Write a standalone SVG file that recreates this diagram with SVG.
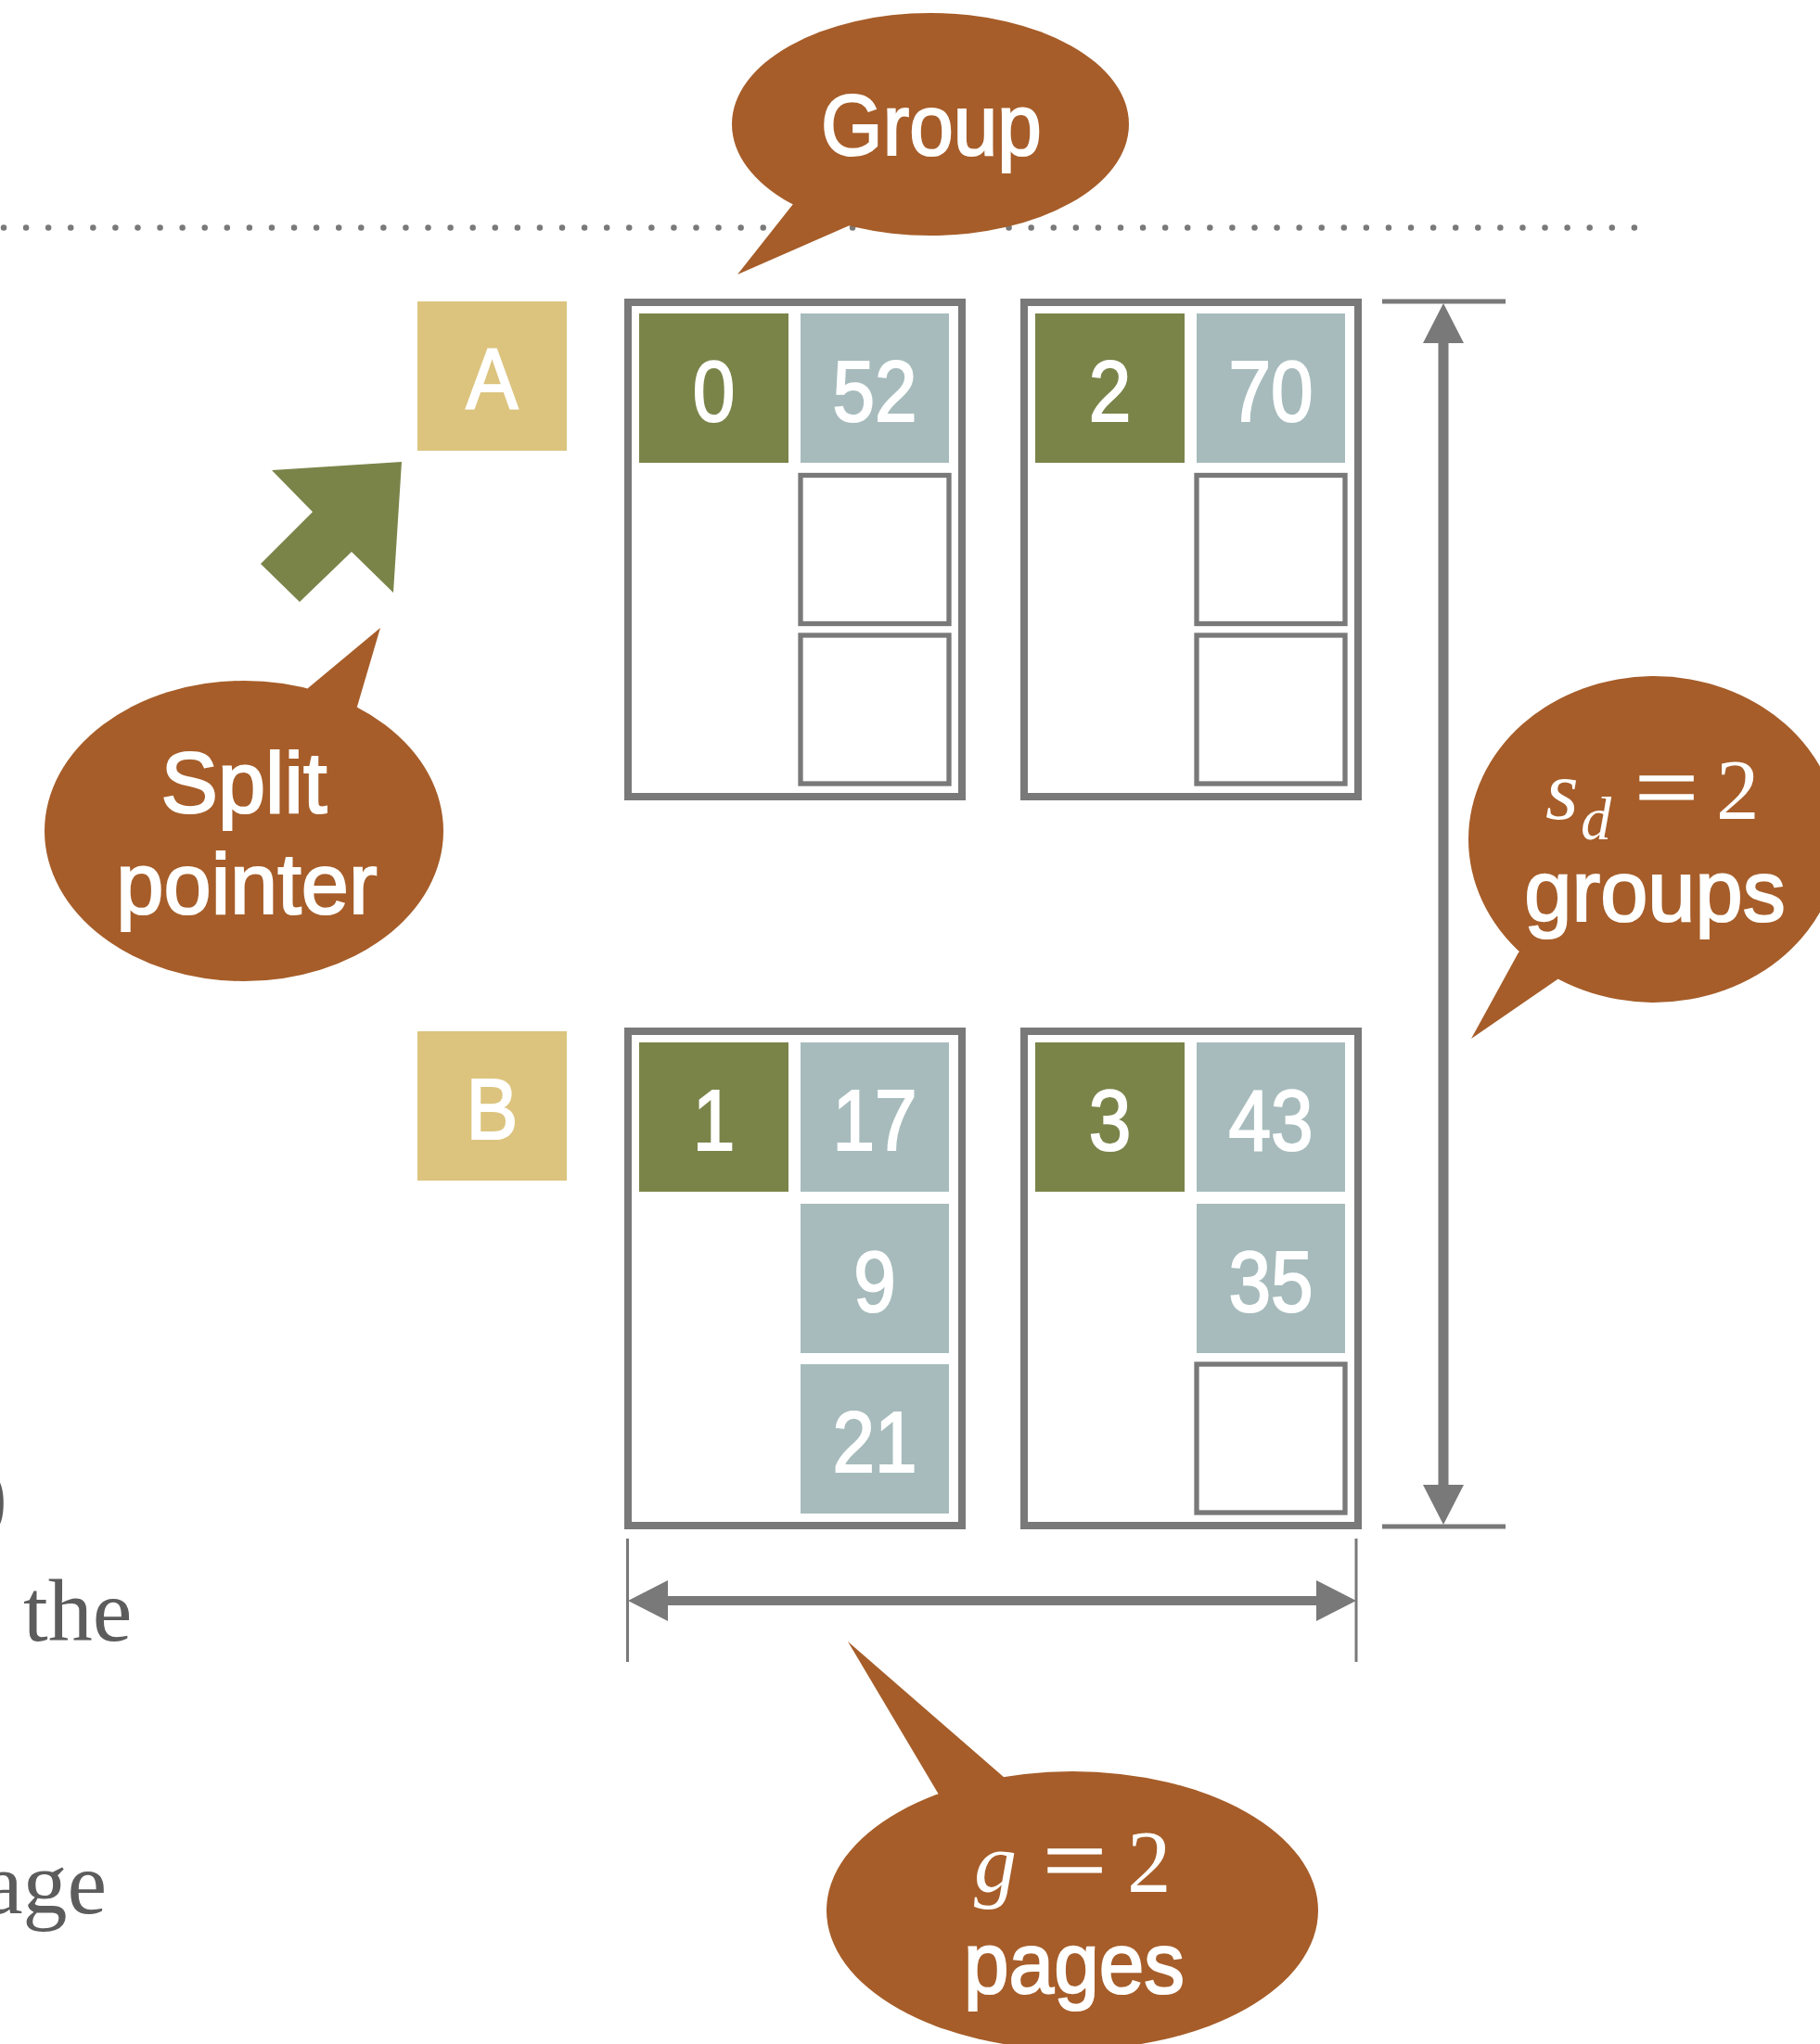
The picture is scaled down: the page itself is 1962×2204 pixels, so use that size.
<svg xmlns="http://www.w3.org/2000/svg" width="1962" height="2204" viewBox="0 0 1962 2204">
<style>
.frame{fill:#fff;stroke:#787978;stroke-width:8}
.empty{fill:#fff;stroke:#787978;stroke-width:5.3}
.key{fill:#7a8449}
.val{fill:#a7bbbc}
.tag{fill:#dcc47f}
.bubble{fill:#a65d29}
.lbl{font-family:"Liberation Sans",Arial,sans-serif;font-size:93px;fill:#fff;stroke:#fff;stroke-width:2.2;text-anchor:middle}
.btxt{font-family:"Liberation Sans",Arial,sans-serif;font-size:92px;fill:#fff;stroke:#fff;stroke-width:2.2;text-anchor:middle}
.math{font-family:"Liberation Serif","Times New Roman",serif;fill:#fff}
.eq{stroke:#fff;stroke-width:1.2}
.it{font-style:italic}
.body{font-family:"Liberation Serif","Times New Roman",serif;font-size:96px;fill:#5c5c5c}
.dim{stroke:#787978;fill:none}
</style>
<defs>
<marker id="head" viewBox="0 -22 43 44" markerWidth="43" markerHeight="44" refX="0" refY="0" markerUnits="userSpaceOnUse" orient="auto-start-reverse">
<path d="M0,-22 L43,0 L0,22 Z" fill="#787978"/>
</marker>
</defs>
<rect width="1962" height="2204" fill="#fff"/>

<g id="page-text">
<text class="body" x="-24" y="1644">)</text>
<text class="body" x="25" y="1769">the</text>
<text class="body" x="-18" y="2063">age</text>
</g>

<g id="boundary">
<line x1="4" y1="245.5" x2="1762" y2="245.5" stroke="#787978" stroke-width="6.5" stroke-linecap="round" stroke-dasharray="0 24.08"/>
</g>

<g id="connectors">
<line class="dim" x1="1490" y1="325" x2="1623" y2="325" stroke-width="5"/>
<line class="dim" x1="1490" y1="1646" x2="1623" y2="1646" stroke-width="5"/>
<line class="dim" x1="1556" y1="370" x2="1556" y2="1601" stroke-width="11" marker-start="url(#head)" marker-end="url(#head)"/>
<line class="dim" x1="676.5" y1="1659" x2="676.5" y2="1792" stroke-width="3"/>
<line class="dim" x1="1462" y1="1659" x2="1462" y2="1792" stroke-width="3"/>
<line class="dim" x1="720" y1="1726" x2="1419" y2="1726" stroke-width="10" marker-start="url(#head)" marker-end="url(#head)"/>
</g>

<g id="pointer-A">
<rect class="tag" x="450" y="325" width="161" height="161"/>
<text class="lbl" transform="translate(530.5 441) scale(0.9 1)">A</text>
</g>
<g id="pointer-B">
<rect class="tag" x="450" y="1112" width="161" height="161"/>
<text class="lbl" transform="translate(530.5 1228) scale(0.9 1)">B</text>
</g>

<g id="group-A1">
<rect class="frame" x="677" y="326" width="360" height="533"/>
<rect class="key" x="689" y="338" width="161" height="161"/>
<rect class="val" x="863" y="338" width="160" height="161"/>
<rect class="empty" x="863" y="512.5" width="160" height="160"/>
<rect class="empty" x="863" y="685" width="160" height="160"/>
<text class="lbl" transform="translate(769.5 454) scale(0.88 1)">0</text>
<text class="lbl" transform="translate(943 454) scale(0.88 1)">52</text>
</g>

<g id="group-A2">
<rect class="frame" x="1104" y="326" width="360" height="533"/>
<rect class="key" x="1116" y="338" width="161" height="161"/>
<rect class="val" x="1290" y="338" width="160" height="161"/>
<rect class="empty" x="1290" y="512.5" width="160" height="160"/>
<rect class="empty" x="1290" y="685" width="160" height="160"/>
<text class="lbl" transform="translate(1196.5 454) scale(0.88 1)">2</text>
<text class="lbl" transform="translate(1370 454) scale(0.88 1)">70</text>
</g>

<g id="group-B1">
<rect class="frame" x="677" y="1112" width="360" height="533"/>
<rect class="key" x="689" y="1124" width="161" height="161"/>
<rect class="val" x="863" y="1124" width="160" height="161"/>
<rect class="val" x="863" y="1298" width="160" height="161"/>
<rect class="val" x="863" y="1471" width="160" height="161"/>
<text class="lbl" transform="translate(769.5 1240) scale(0.88 1)">1</text>
<text class="lbl" transform="translate(943 1240) scale(0.88 1)">17</text>
<text class="lbl" transform="translate(943 1414) scale(0.88 1)">9</text>
<text class="lbl" transform="translate(943 1586.5) scale(0.88 1)">21</text>
</g>

<g id="group-B2">
<rect class="frame" x="1104" y="1112" width="360" height="533"/>
<rect class="key" x="1116" y="1124" width="161" height="161"/>
<rect class="val" x="1290" y="1124" width="160" height="161"/>
<rect class="val" x="1290" y="1298" width="160" height="161"/>
<rect class="empty" x="1290" y="1471" width="160" height="160"/>
<text class="lbl" transform="translate(1196.5 1240) scale(0.88 1)">3</text>
<text class="lbl" transform="translate(1370 1240) scale(0.88 1)">43</text>
<text class="lbl" transform="translate(1370 1414) scale(0.88 1)">35</text>
</g>

<g id="split-arrow">
<polygon class="key" points="433,498 293,507 337,552 281,608 323,649 379,595 424,639"/>
</g>

<g id="bubble-group">
<ellipse class="bubble" cx="1003" cy="134" rx="214" ry="120"/>
<polygon class="bubble" points="795,296 855,220 1003,134 916,243"/>
<text class="btxt" transform="translate(1004 167) scale(0.93 1)">Group</text>
</g>

<g id="bubble-split">
<ellipse class="bubble" cx="263" cy="896" rx="215" ry="162"/>
<polygon class="bubble" points="410,677 332,742 263,896 385,762"/>
<text class="btxt" x="263" y="876">Split</text>
<text class="btxt" x="266" y="985">pointer</text>
</g>

<g id="bubble-sd">
<ellipse class="bubble" cx="1783" cy="905" rx="200" ry="176"/>
<polygon class="bubble" points="1586,1120 1637,1027 1783,905 1679,1056"/>
<text class="math it" x="1666" y="883" font-size="92">s</text>
<text class="math it" x="1704" y="905" font-size="66">d</text>
<text class="math eq" transform="translate(1762 883) scale(1.2 1)" font-size="102">=</text>
<text class="math" x="1850" y="883" font-size="93">2</text>
<text class="btxt" x="1784" y="993">groups</text>
</g>

<g id="bubble-g">
<ellipse class="bubble" cx="1156" cy="2060" rx="265" ry="150"/>
<polygon class="bubble" points="914,1770 1012,1935 1156,2060 1083,1917"/>
<text class="math it" x="1050" y="2040" font-size="92">g</text>
<text class="math eq" transform="translate(1124 2040) scale(1.2 1)" font-size="102">=</text>
<text class="math" x="1215" y="2040" font-size="95">2</text>
<text class="btxt" transform="translate(1158 2149) scale(0.95 1)">pages</text>
</g>
</svg>
